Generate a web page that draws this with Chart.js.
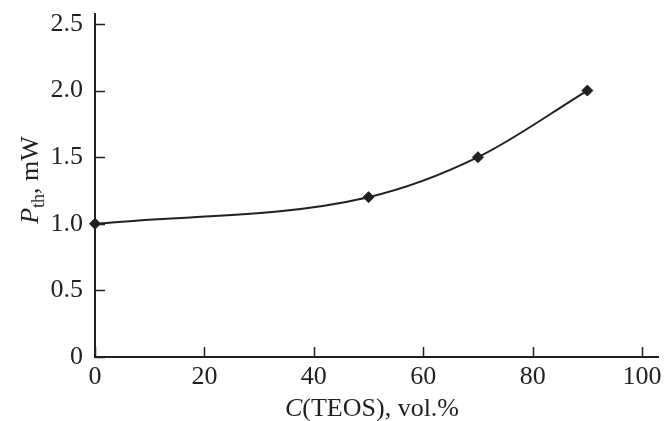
<!DOCTYPE html>
<html>
<head>
<meta charset="utf-8">
<script src="https://cdn.jsdelivr.net/npm/chart.js@4.4.1/dist/chart.umd.min.js"></script>
<style>
  html, body { margin: 0; padding: 0; background: #fff; }
  canvas { display: block; }
</style>
</head>
<body>
<canvas id="grafica" width="665" height="421"></canvas>
<script>
// datos
const concentracion = [0, 50, 70, 90];
const potencia = [1.0, 1.2, 1.5, 2.0];
const ticksX = [0, 20, 40, 60, 80, 100];
const ticksY = [0, 0.5, 1.0, 1.5, 2.0, 2.5];

const INK = '#231f20';
const FONT = '"Liberation Serif", "DejaVu Serif", serif';

// titulos de ejes con cursiva y subindice, y marcas hacia dentro
const ejesPlugin = {
  id: 'ejes',
  afterDraw(chart) {
    const ctx = chart.ctx;
    const xs = chart.scales.x;
    const ys = chart.scales.y;
    const area = chart.chartArea;
    ctx.save();
    ctx.strokeStyle = INK;
    ctx.lineWidth = 1.5;
    ticksX.forEach(v => {
      const px = Math.round(xs.getPixelForValue(v)) + 0.5;
      ctx.beginPath();
      ctx.moveTo(px, area.bottom);
      ctx.lineTo(px, area.bottom - 10);
      ctx.stroke();
    });
    ticksY.forEach(v => {
      const py = Math.round(ys.getPixelForValue(v)) + 0.5;
      ctx.beginPath();
      ctx.moveTo(area.left, py);
      ctx.lineTo(area.left + 10, py);
      ctx.stroke();
    });

    ctx.fillStyle = INK;
    ctx.textBaseline = 'alphabetic';

    // titulo eje X: C(TEOS), vol.%
    const fIt = 'italic 26px ' + FONT;
    const fRg = '26px ' + FONT;
    ctx.font = fIt;
    const wC = ctx.measureText('C').width;
    ctx.font = fRg;
    const wRest = ctx.measureText('(TEOS), vol.%').width;
    let x0 = 372 - (wC + wRest) / 2;
    ctx.font = fIt;
    ctx.fillText('C', x0, 416);
    ctx.font = fRg;
    ctx.fillText('(TEOS), vol.%', x0 + wC, 416);

    // titulo eje Y: P_th, mW
    ctx.translate(38, 180);
    ctx.rotate(-Math.PI / 2);
    const fSub = '18px ' + FONT;
    ctx.font = fIt;
    const wP = ctx.measureText('P').width;
    ctx.font = fSub;
    const wTh = ctx.measureText('th').width;
    ctx.font = fRg;
    const wMw = ctx.measureText(', mW').width;
    let s = -(wP + wTh + wMw) / 2;
    ctx.font = fIt;
    ctx.fillText('P', s, 0);
    ctx.font = fSub;
    ctx.fillText('th', s + wP, 6);
    ctx.font = fRg;
    ctx.fillText(', mW', s + wP + wTh, 0);
    ctx.restore();
  }
};

const ctx = document.getElementById('grafica').getContext('2d');
new Chart(ctx, {
  type: 'line',
  data: {
    datasets: [{
      data: concentracion.map((c, i) => ({ x: c, y: potencia[i] })),
      borderColor: INK,
      borderWidth: 2,
      cubicInterpolationMode: 'monotone',
      pointStyle: 'rectRot',
      pointRadius: 5.5,
      pointBackgroundColor: INK,
      pointBorderColor: INK,
      pointBorderWidth: 1,
      clip: false
    }]
  },
  options: {
    responsive: false,
    animation: false,
    events: [],
    layout: { padding: { top: 14, right: 5, left: 0, bottom: 0 } },
    plugins: {
      legend: { display: false },
      tooltip: { enabled: false }
    },
    scales: {
      x: {
        type: 'linear',
        min: 0,
        max: 103,
        afterBuildTicks: scale => { scale.ticks = ticksX.map(v => ({ value: v })); },
        afterFit: scale => {
          scale.height = 64;
          scale.paddingLeft = 0;
          scale.paddingRight = 0;
        },
        grid: { display: true, drawOnChartArea: false, drawTicks: false },
        border: { display: true, color: INK, width: 2 },
        ticks: {
          color: INK,
          padding: 5,
          maxRotation: 0,
          font: { family: FONT, size: 26 },
          callback: v => String(v)
        }
      },
      y: {
        min: 0,
        max: 2.575,
        afterBuildTicks: scale => { scale.ticks = ticksY.map(v => ({ value: v })); },
        afterFit: scale => {
          scale.width = 95;
          scale.paddingTop = 0;
          scale.paddingBottom = 0;
        },
        grid: { display: true, drawOnChartArea: false, drawTicks: false },
        border: { display: true, color: INK, width: 2 },
        ticks: {
          color: INK,
          padding: 12,
          font: { family: FONT, size: 26 },
          callback: v => v === 0 ? '0' : v.toFixed(1)
        }
      }
    }
  },
  plugins: [ejesPlugin]
});
</script>
</body>
</html>
